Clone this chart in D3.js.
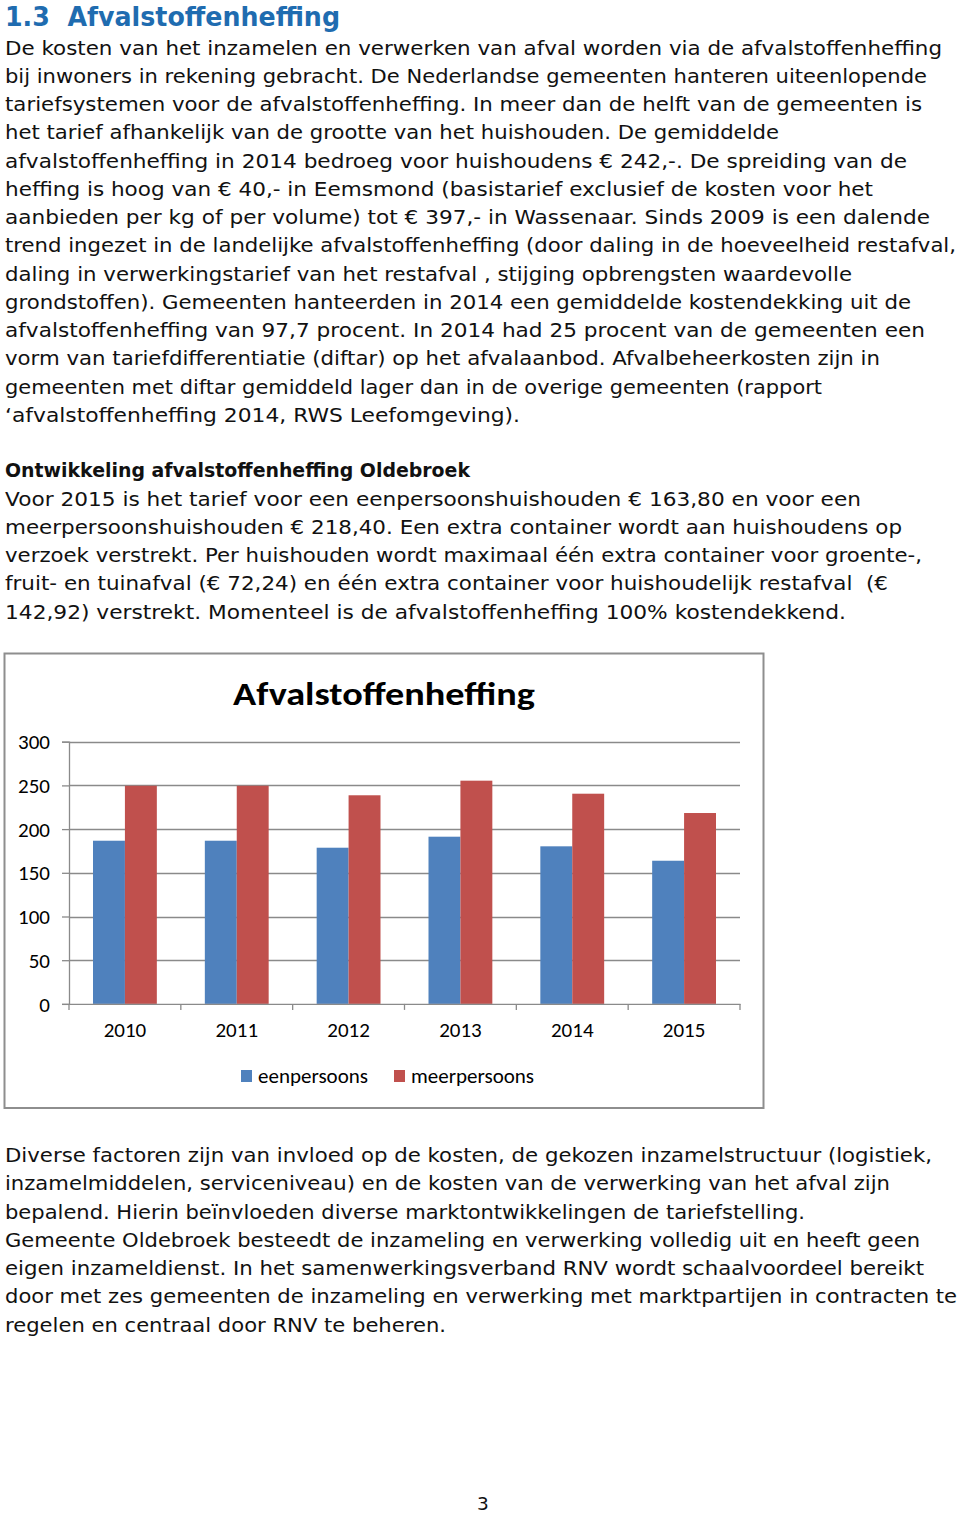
<!DOCTYPE html>
<html>
<head>
<meta charset="utf-8">
<script src="https://cdn.jsdelivr.net/npm/d3@7"></script>
<style>
  html, body { margin: 0; padding: 0; background: #fff; }
  svg { display: block; }
</style>
</head>
<body>
<div id="page"></div>
<script>
// ---------- DATA ----------
const years = ["2010", "2011", "2012", "2013", "2014", "2015"];
const eenpersoons = [186.7, 186.7, 178.7, 191.3, 180.3, 163.8];
const meerpersoons = [249.6, 249.6, 238.7, 255.4, 240.5, 218.4];
const seriesNames = ["eenpersoons", "meerpersoons"];
const yTicks = [0, 50, 100, 150, 200, 250, 300];
const chartTitle = "Afvalstoffenheffing";

const sectionTitle = "1.3  Afvalstoffenheffing";
const introLines = [
  "De kosten van het inzamelen en verwerken van afval worden via de afvalstoffenheffing",
  "bij inwoners in rekening gebracht. De Nederlandse gemeenten hanteren uiteenlopende",
  "tariefsystemen voor de afvalstoffenheffing. In meer dan de helft van de gemeenten is",
  "het tarief afhankelijk van de grootte van het huishouden. De gemiddelde",
  "afvalstoffenheffing in 2014 bedroeg voor huishoudens € 242,-. De spreiding van de",
  "heffing is hoog van € 40,- in Eemsmond (basistarief exclusief de kosten voor het",
  "aanbieden per kg of per volume) tot € 397,- in Wassenaar. Sinds 2009 is een dalende",
  "trend ingezet in de landelijke afvalstoffenheffing (door daling in de hoeveelheid restafval,",
  "daling in verwerkingstarief van het restafval , stijging opbrengsten waardevolle",
  "grondstoffen). Gemeenten hanteerden in 2014 een gemiddelde kostendekking uit de",
  "afvalstoffenheffing van 97,7 procent. In 2014 had 25 procent van de gemeenten een",
  "vorm van tariefdifferentiatie (diftar) op het afvalaanbod. Afvalbeheerkosten zijn in",
  "gemeenten met diftar gemiddeld lager dan in de overige gemeenten (rapport",
  "‘afvalstoffenheffing 2014, RWS Leefomgeving)."
];
const subHeading = "Ontwikkeling afvalstoffenheffing Oldebroek";
const oldebroekLines = [
  "Voor 2015 is het tarief voor een eenpersoonshuishouden € 163,80 en voor een",
  "meerpersoonshuishouden € 218,40. Een extra container wordt aan huishoudens op",
  "verzoek verstrekt. Per huishouden wordt maximaal één extra container voor groente-,",
  "fruit- en tuinafval (€ 72,24) en één extra container voor huishoudelijk restafval  (€",
  "142,92) verstrekt. Momenteel is de afvalstoffenheffing 100% kostendekkend."
];
const closingLines = [
  "Diverse factoren zijn van invloed op de kosten, de gekozen inzamelstructuur (logistiek,",
  "inzamelmiddelen, serviceniveau) en de kosten van de verwerking van het afval zijn",
  "bepalend. Hierin beïnvloeden diverse marktontwikkelingen de tariefstelling.",
  "Gemeente Oldebroek besteedt de inzameling en verwerking volledig uit en heeft geen",
  "eigen inzameldienst. In het samenwerkingsverband RNV wordt schaalvoordeel bereikt",
  "door met zes gemeenten de inzameling en verwerking met marktpartijen in contracten te",
  "regelen en centraal door RNV te beheren."
];
const pageNumber = "3";

// ---------- LAYOUT (positions / sizes, kept apart from data) ----------
const introRight = [942, 927, 922, 779, 907, 873, 930, 956, 852, 911, 925, 880, 822, 520];
const oldebroekRight = [861, 902, 922, 888, 846];
const closingRight = [932, 890, 805, 920, 924, 957, 446];
const lineGap = 28.25;
const bodyFont = "'DejaVu Sans', Verdana, sans-serif";
const chartFont = "Carlito, Calibri, Lato, 'Open Sans', sans-serif";

const W = 960, H = 1515;
const svg = d3.select("#page").append("svg")
  .attr("width", W).attr("height", H)
  .attr("viewBox", `0 0 ${W} ${H}`);
svg.append("rect").attr("width", W).attr("height", H).attr("fill", "#fff");

// ---------- TEXT ----------
svg.append("text")
  .attr("x", 5).attr("y", 25.5)
  .attr("font-family", bodyFont).attr("font-weight", "bold")
  .attr("font-size", 26.5).attr("fill", "#1f6cb0")
  .attr("textLength", 335).attr("lengthAdjust", "spacingAndGlyphs")
  .attr("xml:space", "preserve")
  .text(sectionTitle);

function block(lines, rights, y0) {
  svg.append("g").selectAll("text").data(lines).join("text")
    .attr("x", 5)
    .attr("y", (d, i) => y0 + i * lineGap)
    .attr("font-family", bodyFont)
    .attr("font-size", 19.5)
    .attr("fill", "#111")
    .attr("textLength", (d, i) => rights[i] - 5)
    .attr("lengthAdjust", "spacingAndGlyphs")
    .attr("xml:space", "preserve")
    .text(d => d);
}
block(introLines, introRight, 54.5);

svg.append("text")
  .attr("x", 5).attr("y", 477)
  .attr("font-family", bodyFont).attr("font-weight", "bold")
  .attr("font-size", 19.5).attr("fill", "#111")
  .attr("textLength", 465).attr("lengthAdjust", "spacingAndGlyphs")
  .text(subHeading);

block(oldebroekLines, oldebroekRight, 505.5);
block(closingLines, closingRight, 1162);

svg.append("text")
  .attr("x", 483).attr("y", 1510)
  .attr("text-anchor", "middle")
  .attr("font-family", bodyFont).attr("font-size", 18.5).attr("fill", "#111")
  .text(pageNumber);

// ---------- CHART ----------
const chart = svg.append("g");
chart.append("rect")
  .attr("x", 4.5).attr("y", 653.5).attr("width", 759).attr("height", 454.5)
  .attr("fill", "#fff").attr("stroke", "#8e8e8e").attr("stroke-width", 2);

const plot = { left: 69, right: 740, top: 741.7, bottom: 1003.9 };

const x0 = d3.scaleBand().domain(years).range([plot.left, plot.right]).padding(0);
const x1 = d3.scaleBand().domain(seriesNames)
  .range([x0.bandwidth() * 0.2146, x0.bandwidth() * 0.7854]).padding(0);
const y = d3.scaleLinear().domain([0, 300]).range([plot.bottom, plot.top]);
const color = d3.scaleOrdinal().domain(seriesNames).range(["#4f81bd", "#c0504d"]);

// gridlines
chart.append("g").selectAll("line").data(yTicks.filter(t => t > 0)).join("line")
  .attr("x1", plot.left).attr("x2", plot.right)
  .attr("y1", d => Math.round(y(d)) + 0.5).attr("y2", d => Math.round(y(d)) + 0.5)
  .attr("stroke", "#8a8a8a").attr("stroke-width", 1.3);

// bars
const rows = years.map((yr, i) => ({ year: yr, values: [eenpersoons[i], meerpersoons[i]] }));
chart.append("g").selectAll("g").data(rows).join("g")
  .attr("transform", d => `translate(${x0(d.year)},0)`)
  .selectAll("rect")
  .data(d => d.values.map((v, j) => ({ key: seriesNames[j], value: v })))
  .join("rect")
  .attr("x", d => x1(d.key))
  .attr("width", x1.bandwidth())
  .attr("y", d => y(d.value))
  .attr("height", d => y(0) - y(d.value))
  .attr("fill", d => color(d.key));

// y axis
const yAxis = chart.append("g")
  .attr("transform", `translate(${plot.left},0)`)
  .call(d3.axisLeft(y).tickValues(yTicks).tickSize(7).tickPadding(12).tickFormat(d3.format("d")));
yAxis.select(".domain").attr("stroke", "#8a8a8a").attr("stroke-width", 1.3);
yAxis.selectAll(".tick line").attr("stroke", "#8a8a8a").attr("stroke-width", 1.3);
yAxis.selectAll(".tick text")
  .attr("font-family", chartFont).attr("font-size", 21).attr("fill", "#000")
  .attr("dy", "0.34em");

// x axis
const xAxis = chart.append("g")
  .attr("transform", `translate(0,${plot.bottom})`)
  .call(d3.axisBottom(x0).tickSize(0).tickPadding(18));
xAxis.select(".domain").attr("stroke", "#8a8a8a").attr("stroke-width", 1.3);
xAxis.selectAll(".tick text")
  .attr("font-family", chartFont).attr("font-size", 21).attr("fill", "#000");
const boundaries = years.map(d => x0(d)).concat([plot.right]);
xAxis.append("g").selectAll("line").data(boundaries).join("line")
  .attr("x1", d => d).attr("x2", d => d).attr("y1", 0).attr("y2", 6)
  .attr("stroke", "#8a8a8a").attr("stroke-width", 1.3);

// chart title
chart.append("text")
  .attr("x", 384).attr("y", 705)
  .attr("text-anchor", "middle")
  .attr("font-family", chartFont).attr("font-weight", "bold")
  .attr("font-size", 33).attr("fill", "#000")
  .attr("textLength", 302).attr("lengthAdjust", "spacingAndGlyphs")
  .text(chartTitle);

// legend
const legendX = [241, 394];
const legend = chart.append("g").selectAll("g").data(seriesNames).join("g")
  .attr("transform", (d, i) => `translate(${legendX[i]},1070)`);
legend.append("rect").attr("width", 11).attr("height", 12).attr("fill", d => color(d));
legend.append("text")
  .attr("x", 17).attr("y", 13)
  .attr("font-family", chartFont).attr("font-size", 21).attr("fill", "#000")
  .text(d => d);
</script>
</body>
</html>
